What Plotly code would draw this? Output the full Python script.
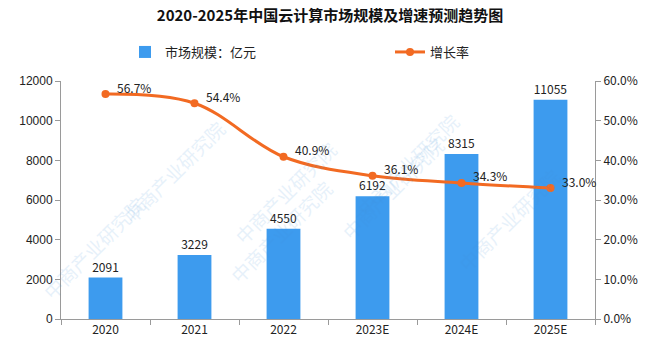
import plotly.graph_objects as go

years = ["2020", "2021", "2022", "2023E", "2024E", "2025E"]
market_size = [2091, 3229, 4550, 6192, 8315, 11055]
growth_rate = [56.7, 54.4, 40.9, 36.1, 34.3, 33.0]

BAR_COLOR = "#3d9bee"
LINE_COLOR = "#f26a22"
FONT = "Noto Sans CJK SC"

fig = go.Figure()

fig.add_trace(go.Bar(
    x=years, y=market_size, name="市场规模：亿元",
    marker=dict(color=BAR_COLOR, line=dict(width=0)),
    width=0.38,
    text=[str(v) for v in market_size], textposition="outside",
    textfont=dict(size=12, color="#222222", family=FONT),
    cliponaxis=False,
))

fig.add_trace(go.Scatter(
    x=years, y=[v / 100 for v in growth_rate], name="增长率",
    yaxis="y2", mode="lines+markers",
    line=dict(color=LINE_COLOR, width=3, shape="spline", smoothing=1.0),
    marker=dict(color=LINE_COLOR, size=8),
    cliponaxis=False,
))

# growth-rate labels, just above and to the right of each marker
# (x given as category index so numeric-looking year names are not misread)
labels = [dict(x=i, y=v / 100, xref="x", yref="y2", text=f"{v:.1f}%",
               showarrow=False, xanchor="left", yanchor="middle",
               xshift=9, yshift=7,
               font=dict(size=12, color="#222222", family=FONT))
          for i, v in enumerate(growth_rate)]

# faint diagonal watermark text
wm = []
for cx, cy in [(0.1, 0.62), (0.42, 0.78), (0.76, 0.9), (0.3, 0.12),
               (0.62, 0.3), (0.95, 0.42), (-0.05, 0.05)]:
    wm.append(dict(x=cx, y=cy, xref="paper", yref="paper", text="中商产业研究院",
                   showarrow=False, textangle=-45, opacity=0.12,
                   font=dict(size=19, color="#3d8fd8", family=FONT)))

fig.update_layout(
    width=660, height=343,
    margin=dict(l=61, r=65, t=81, b=24, autoexpand=False),
    paper_bgcolor="white", plot_bgcolor="white",
    font=dict(family=FONT, size=12, color="#222222"),
    title=dict(text="<b>2020-2025年中国云计算市场规模及增速预测趋势图</b>",
               x=0.5, xanchor="center", y=0.955, yanchor="middle",
               font=dict(size=15, color="#111111", family=FONT)),
    showlegend=True,
    legend=dict(orientation="h", xref="container", x=125 / 660, xanchor="left",
                yref="container", y=1 - 52 / 343, yanchor="middle",
                entrywidth=220, entrywidthmode="pixels",
                font=dict(size=13, family=FONT), bgcolor="rgba(0,0,0,0)"),
    xaxis=dict(type="category", categoryorder="array", categoryarray=years,
               range=[-0.5, len(years) - 0.5], autorange=False,
               showline=True, linecolor="#9a9a9a", linewidth=1, automargin=False,
               ticks="outside", tickson="boundaries", ticklen=5, tickcolor="#9a9a9a",
               tickfont=dict(size=12, family=FONT), showgrid=False),
    yaxis=dict(range=[0, 12000], dtick=2000, tickformat="d", showline=True,
               linecolor="#9a9a9a", automargin=False,
               ticks="outside", ticklen=5, tickcolor="#9a9a9a", showgrid=False,
               zeroline=False, tickfont=dict(size=12, family="Liberation Sans")),
    yaxis2=dict(range=[0, 0.6], dtick=0.1, tickformat=".1%", overlaying="y", side="right",
                showline=True, linecolor="#9a9a9a", ticks="outside", ticklen=5,
                tickcolor="#9a9a9a", showgrid=False, zeroline=False, automargin=False,
                tickfont=dict(size=12, family=FONT)),
    annotations=wm + labels,
)

fig.write_html("out.html")
